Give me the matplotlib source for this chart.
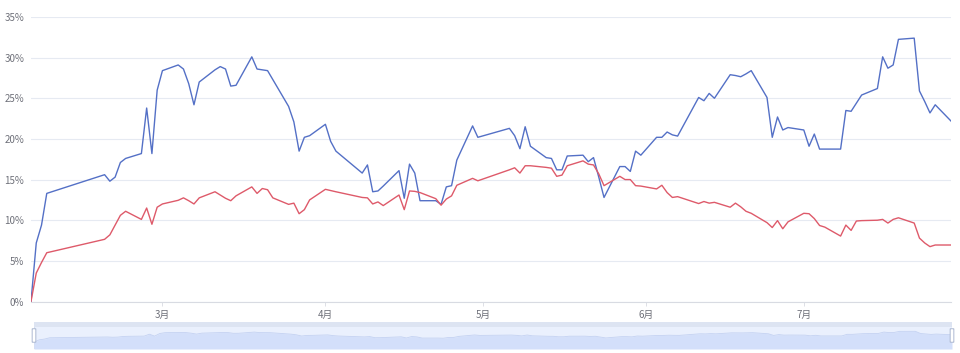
import matplotlib
matplotlib.use("Agg")
import matplotlib.pyplot as plt
import matplotlib.dates as mdates
from matplotlib.patches import FancyBboxPatch, Rectangle
import pandas as pd

plt.rcParams['font.family'] = ['Noto Sans CJK SC', 'DejaVu Sans']

year = 2024
days = [
    "02-05", "02-06", "02-07", "02-08", "02-19", "02-20", "02-21", "02-22", "02-23", "02-26", "02-27", "02-28", "02-29",
    "03-01", "03-04", "03-05", "03-06", "03-07", "03-08", "03-11", "03-12", "03-13", "03-14", "03-15", "03-18", "03-19",
    "03-20", "03-21", "03-22", "03-25", "03-26", "03-27", "03-28", "03-29",
    "04-01", "04-02", "04-03", "04-08", "04-09", "04-10", "04-11", "04-12", "04-15", "04-16", "04-17", "04-18", "04-19",
    "04-22", "04-23", "04-24", "04-25", "04-26", "04-29", "04-30",
    "05-06", "05-07", "05-08", "05-09", "05-10", "05-13", "05-14", "05-15", "05-16", "05-17", "05-20", "05-21", "05-22",
    "05-23", "05-24", "05-27", "05-28", "05-29", "05-30", "05-31",
    "06-03", "06-04", "06-05", "06-06", "06-07", "06-11", "06-12", "06-13", "06-14", "06-17", "06-18", "06-19", "06-20",
    "06-21", "06-24", "06-25", "06-26", "06-27", "06-28",
    "07-01", "07-02", "07-03", "07-04", "07-05", "07-08", "07-09", "07-10", "07-11", "07-12", "07-15", "07-16", "07-17",
    "07-18", "07-19", "07-22", "07-23", "07-24", "07-25", "07-26", "07-29",
]

blue_series = [
    0.0, 7.2, 9.4, 13.3, 15.6, 14.8, 15.3, 17.1, 17.6, 18.2, 23.8, 18.2, 26.0,
    28.4, 29.1, 28.6, 26.8, 24.2, 27.0, 28.5, 28.9, 28.6, 26.5, 26.6, 30.1, 28.6, 28.5, 28.4, 27.3, 24.0, 22.1, 18.5,
    20.2, 20.4,
    21.8, 19.7, 18.5, 15.8, 16.8, 13.5, 13.6, 14.2, 16.1, 12.7, 16.9, 15.8, 12.4, 12.4, 11.95, 14.1, 14.25, 17.4,
    21.6, 20.2,
    21.3, 20.4, 18.8, 21.5, 19.1, 17.7, 17.6, 16.2, 16.2, 17.9, 18.0, 17.2, 17.7, 15.3, 12.8, 16.6, 16.6, 16.0,
    18.5, 18.0,
    20.2, 20.2, 20.85, 20.5, 20.35, 25.1, 24.7, 25.6, 25.0, 27.9, 27.8, 27.65, 28.0, 28.4, 25.1, 20.2, 22.7, 21.1, 21.4,
    21.1, 19.1, 20.6, 18.75, 18.75, 18.75, 23.5, 23.4, 24.4, 25.4, 26.2, 30.1, 28.7, 29.1, 32.25, 32.4, 25.9, 24.6,
    23.2, 24.2, 22.2,
]

red_series = [
    0.0, 3.5, 4.8, 6.0, 7.65, 8.2, 9.4, 10.6, 11.1, 10.1, 11.5, 9.5, 11.6,
    12.0, 12.45, 12.75, 12.4, 12.0, 12.75, 13.5, 13.1, 12.7, 12.4, 13.0, 14.1, 13.3, 13.9, 13.75, 12.75, 11.95, 12.1,
    10.8, 11.3, 12.5,
    13.8, 13.65, 13.5, 12.8, 12.75, 12.0, 12.25, 11.8, 13.1, 11.3, 13.6, 13.55, 13.4, 12.65, 11.85, 12.6, 13.0, 14.3,
    15.15, 14.85,
    16.2, 16.45, 15.8, 16.7, 16.7, 16.5, 16.4, 15.4, 15.55, 16.7, 17.3, 16.9, 16.8, 15.7, 14.25, 15.4, 15.0, 15.0,
    14.25, 14.2,
    13.85, 14.3, 13.4, 12.8, 12.9, 12.05, 12.3, 12.1, 12.2, 11.6, 12.1, 11.65, 11.1, 10.85, 9.7, 9.1, 9.95, 8.95, 9.8,
    10.85, 10.8, 10.2, 9.35, 9.15, 8.05, 9.4, 8.75, 9.9, 9.95, 10.0, 10.1, 9.65, 10.1, 10.3, 9.65, 7.8, 7.2, 6.75,
    6.95, 6.95,
]

y_ticks = [0, 5, 10, 15, 20, 25, 30, 35]
month_ticks = [3, 4, 5, 6, 7]

dates = pd.to_datetime([f"{year}-{d}" for d in days])

W, H = 960, 353
fig = plt.figure(figsize=(W / 100, H / 100), dpi=100)

ax = fig.add_axes([31 / W, 1 - 301.5 / H, (951 - 31) / W, (301.5 - 17) / H])
ax.plot(dates, blue_series, color='#5470c6', lw=1.0, solid_joinstyle='round')
ax.plot(dates, red_series, color='#de5a6a', lw=1.0, solid_joinstyle='round')

ax.set_xlim(dates[0], dates[-1])
ax.set_ylim(0, 35)
ax.set_yticks(y_ticks)
ax.set_yticklabels([f"{v}%" for v in y_ticks])
ax.grid(axis='y', color='#e6eaf2', lw=0.8)
ax.set_axisbelow(True)
for s in ['top', 'right', 'left']:
    ax.spines[s].set_visible(False)
ax.spines['bottom'].set_color('#d8dbe2')
ax.spines['bottom'].set_linewidth(0.8)
ax.tick_params(axis='y', length=0, pad=5, labelsize=7, labelcolor='#6e7079')
xt = pd.to_datetime([f"{year}-{m:02d}-01" for m in month_ticks])
ax.set_xticks(xt)
ax.set_xticklabels([f"{m}月" for m in month_ticks])
ax.tick_params(axis='x', length=3, width=0.6, color='#d8dbe2', pad=3, labelsize=7, labelcolor='#6e7079')

# data zoom slider
sx0, sx1, sy0, sy1 = 34, 952, 322, 349
sax = fig.add_axes([sx0 / W, 1 - sy1 / H, (sx1 - sx0) / W, (sy1 - sy0) / H])
sax.set_xlim(dates[0], dates[-1])
sax.set_ylim(-20, 60)
sax.axis('off')
sax.add_patch(Rectangle((0, 0), 1, 1, transform=sax.transAxes, facecolor='#eaf0fd', edgecolor='#d6deef', lw=0.8, zorder=0))
sax.fill_between(dates, -20, blue_series, color='#d3dffa', lw=0, zorder=1)
sax.plot(dates, blue_series, color='#c4d2f2', lw=0.6, zorder=2)
sax.add_patch(Rectangle((0, 0.8), 1, 0.2, transform=sax.transAxes, facecolor='#dde4f2', edgecolor='none', zorder=3))
for hx in [0.0, 1.0]:
    sax.add_patch(FancyBboxPatch((hx - 0.002, 0.25), 0.004, 0.5, boxstyle='round,pad=0.0,rounding_size=0.002',
                                 transform=sax.transAxes, facecolor='white', edgecolor='#acb8d1', lw=0.7,
                                 zorder=4, clip_on=False))

fig.savefig('out.png', dpi=100)
